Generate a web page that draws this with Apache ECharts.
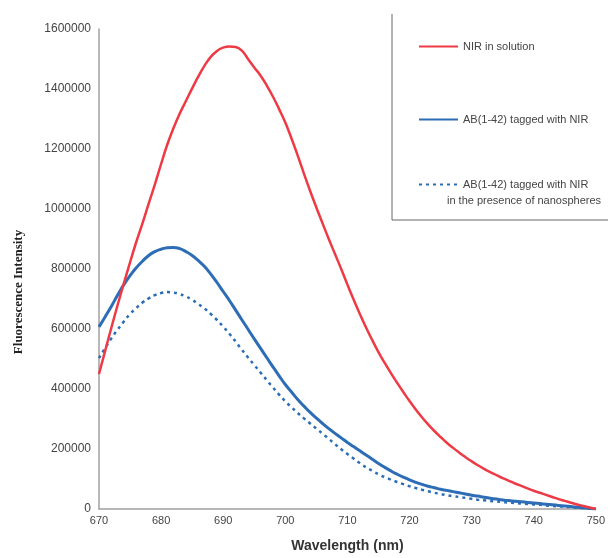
<!DOCTYPE html>
<html><head><meta charset="utf-8">
<script src="https://cdn.jsdelivr.net/npm/echarts@6/dist/echarts.min.js"></script>
<style>html,body{margin:0;padding:0;background:#fff}#c{width:608px;height:558px}</style>
</head><body><div id="c"></div>
<script>
const wavelengths = [670,671,672,673,674,675,676,677,678,679,680,681,682,683,684,685,686,687,688,689,690,691,692,693,694,695,696,697,698,699,700,701,702,703,704,705,706,707,708,709,710,711,712,713,714,715,716,717,718,719,720,721,722,723,724,725,726,727,728,729,730,731,732,733,734,735,736,737,738,739,740,741,742,743,744,745,746,747,748,749,750];
// values in thousands
const nirSolution = [450,528,605,680,752,822,890,952,1018,1082,1150,1215,1270,1318,1360,1402,1442,1478,1507,1527,1538,1542,1540,1528,1500,1472,1445,1412,1375,1333,1288,1235,1178,1118,1060,1005,952,900,850,800,748,698,650,605,563,523,487,453,421,390,360,332,306,282,260,240,221,204,188,173,159,146,134,123,113,103,94,85,77,69,61,54,47,40,33,27,21,15,10,5,0];
const abTagged = [607,641,676,713,748,778,804,826,845,858,866,871,872,868,858,845,828,808,783,755,725,695,663,631,599,567,536,505,474,444,415,390,365,343,322,303,285,268,252,237,222,208,194,180,166,152,139,127,116,106,97,89,82,76,71,66,62,58,54,50,46,43,39,36,33,30,28,26,24,22,20,18,16,14,12,10,8,6,4,2,0];
const abNano = [503,537,569,598,625,650,670,688,702,713,720,723,721,716,708,697,683,668,650,630,608,584,558,531,505,480,455,430,405,381,359,339,320,302,285,268,251,234,216,199,183,168,153,139,127,116,106,98,90,83,76,70,64,59,54,50,46,43,40,37,34,31,29,27,25,23,21,20,18,17,15,14,12,10,9,7,6,4,3,2,0];
const yTicks = [0,200000,400000,600000,800000,1000000,1200000,1400000,1600000];
const seriesNames = ['NIR in solution','AB(1-42) tagged with NIR','AB(1-42) tagged with NIR '];

const RED = '#ee3a44', BLUE = '#2c6db6';
const pairs = arr => wavelengths.map((w,i)=>[w, arr[i]*1000]);

const chart = echarts.init(document.getElementById('c'), null, {renderer:'canvas'});
const legendBase = {orient:'vertical', itemWidth:39, itemHeight:12, itemGap:5,
  itemStyle:{opacity:0}, symbolKeepAspect:true,
  textStyle:{fontFamily:'Liberation Sans, Arial', fontSize:11, color:'#444'}, padding:0};
chart.setOption({
  animation:false,
  backgroundColor:'#fff',
  grid:{left:99, right:11, top:29, bottom:49},
  xAxis:{type:'value', min:670, max:750, interval:10,
    name:'Wavelength (nm)', nameLocation:'middle', nameGap:30,
    nameTextStyle:{fontFamily:'Liberation Sans, Arial', fontWeight:'bold', fontSize:14, color:'#333'},
    axisLine:{show:true, lineStyle:{color:'#a0a0a0', width:1.5}},
    axisTick:{show:false}, splitLine:{show:false},
    axisLabel:{fontFamily:'Liberation Sans, Arial', fontSize:11, color:'#444', margin:6}},
  yAxis:{type:'value', min:0, max:1600000, interval:200000,
    axisLine:{show:true, lineStyle:{color:'#a0a0a0', width:1.5}},
    axisTick:{show:false}, splitLine:{show:false},
    axisLabel:{fontFamily:'Liberation Sans, Arial', fontSize:12, color:'#444', margin:8,
      formatter: v => yTicks.includes(v) ? String(v) : ''}},
  legend:[
    Object.assign({}, legendBase, {left:418, top:41, data:[seriesNames[0]]}),
    Object.assign({}, legendBase, {left:418, top:114, data:[seriesNames[1]]}),
    Object.assign({}, legendBase, {left:418, top:179, data:[seriesNames[2]],
      formatter: () => 'AB(1-42) tagged with NIR'})
  ],
  graphic:[
    {type:'polyline', shape:{points:[[392,14],[392,220],[610,220]]}, style:{stroke:'#666', lineWidth:1, fill:null}},
    {type:'text', left:447, top:195, style:{text:'in the presence of nanospheres', fontFamily:'Liberation Sans, Arial', fontSize:11, fill:'#444'}},
    {type:'text', x:19, y:292, rotation:Math.PI/2, style:{text:'Fluorescence Intensity', fontFamily:'Liberation Serif, Times New Roman', fontWeight:'bold', fontSize:13, fill:'#222', align:'center', verticalAlign:'middle'}}
  ],
  series:[
    {name:seriesNames[0], type:'line', data:pairs(nirSolution), symbol:'none', smooth:true,
      lineStyle:{color:RED, width:2.5}, itemStyle:{color:RED}, z:3},
    {name:seriesNames[1], type:'line', data:pairs(abTagged), symbol:'none', smooth:true,
      lineStyle:{color:BLUE, width:3}, itemStyle:{color:BLUE}, z:2},
    {name:seriesNames[2], type:'line', data:pairs(abNano), symbol:'none', smooth:true,
      lineStyle:{color:BLUE, width:2.5, type:[3,4]}, itemStyle:{color:BLUE}, z:1}
  ]
});
</script></body></html>
